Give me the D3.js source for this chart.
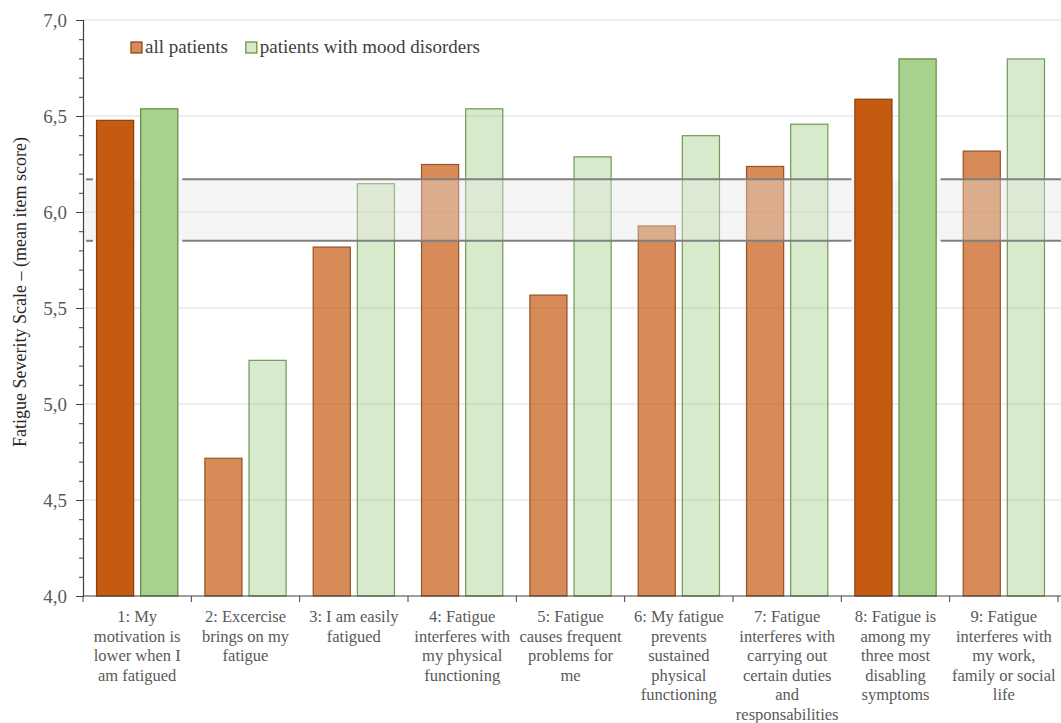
<!DOCTYPE html>
<meta charset="utf-8">
<style>
  body { margin: 0; background: #fff; }
  text { font-family: "Liberation Serif", "DejaVu Serif", serif; }
</style>
<body></body>
<script src="https://d3js.org/d3.v7.min.js"></script>
<script>

var width = 1061,
    height = 723;

// item labels (already split in lines as in the picture)
var items = [
  ["1: My", "motivation is", "lower when I", "am fatigued"],
  ["2: Excercise", "brings on my", "fatigue"],
  ["3: I am easily", "fatigued"],
  ["4: Fatigue", "interferes with", "my physical", "functioning"],
  ["5: Fatigue", "causes frequent", "problems for", "me"],
  ["6: My fatigue", "prevents", "sustained", "physical", "functioning"],
  ["7: Fatigue", "interferes with", "carrying out", "certain duties", "and", "responsabilities"],
  ["8: Fatigue is", "among my", "three most", "disabling", "symptoms"],
  ["9: Fatigue", "interferes with", "my work,", "family or social", "life"]
];
var allPatients  = [6.48, 4.72, 5.82, 6.25, 5.57, 5.93, 6.24, 6.59, 6.32];
var moodPatients = [6.54, 5.23, 6.15, 6.54, 6.29, 6.40, 6.46, 6.80, 6.80];
var highlighted  = [0, 7];          // items drawn in full colour
var series = ["all patients", "patients with mood disorders"];
var refBand = [5.85, 6.17];         // reference range shown as grey band
var yTicks = [4.0, 4.5, 5.0, 5.5, 6.0, 6.5, 7.0];

var margin = {top: 20, right: 3, bottom: 127, left: 83};

var x = d3.scaleBand()
    .domain(d3.range(items.length))
    .range([margin.left, width - margin.right]);

var xs = d3.scaleBand()
    .domain(series)
    .range([0, x.bandwidth()])
    .paddingInner(0.136)
    .paddingOuter(0.295);

var y = d3.scaleLinear()
    .domain([4, 7])
    .range([height - margin.bottom, margin.top]);

var fill = {
  "all patients": "#c55a11",
  "patients with mood disorders": "#a9d18e"
};
var stroke = {
  "all patients": "#8c3f0c",
  "patients with mood disorders": "#5b8a3c"
};
var lightOpacity = {
  "all patients": 0.7,
  "patients with mood disorders": 0.45
};

var svg = d3.select("body").append("svg")
    .attr("width", width)
    .attr("height", height);

// gridlines
svg.append("g")
  .selectAll("line")
  .data(yTicks.slice(1))
  .join("line")
    .attr("x1", margin.left)
    .attr("x2", width)
    .attr("y1", function(d) { return y(d); })
    .attr("y2", function(d) { return y(d); })
    .attr("stroke", "#dcdcdc")
    .attr("stroke-width", 1.2);

var rows = [];
items.forEach(function(it, i) {
  rows.push({i: i, s: series[0], v: allPatients[i]});
  rows.push({i: i, s: series[1], v: moodPatients[i]});
});
var isHi = function(d) { return highlighted.indexOf(d.i) >= 0; };

function drawBars(g, data, light) {
  g.selectAll("rect")
    .data(data)
    .join("rect")
      .attr("x", function(d) { return x(d.i) + xs(d.s) + 0.5; })
      .attr("y", function(d) { return y(d.v) + 0.5; })
      .attr("width", xs.bandwidth() - 1)
      .attr("height", function(d) { return y(4) - y(d.v) - 0.5; })
      .attr("fill", function(d) { return fill[d.s]; })
      .attr("fill-opacity", function(d) { return light ? lightOpacity[d.s] : 1; })
      .attr("stroke", function(d) { return stroke[d.s]; })
      .attr("stroke-opacity", light ? 0.85 : 1)
      .attr("stroke-width", 1.2);
}

// light bars
drawBars(svg.append("g"), rows.filter(function(d) { return !isHi(d); }), true);

// reference band over the light bars
svg.append("rect")
    .attr("x", margin.left + 1)
    .attr("y", y(refBand[1]))
    .attr("width", width - margin.left)
    .attr("height", y(refBand[0]) - y(refBand[1]))
    .attr("fill", "#e6e6e6")
    .attr("fill-opacity", 0.38);

// band edges, broken around the highlighted items
var segs = [];
var start = margin.left + 3;
highlighted.forEach(function(i) {
  segs.push([start, x(i) + xs(series[0]) - 3]);
  start = x(i) + xs(series[1]) + xs.bandwidth() + 4;
});
segs.push([start, width]);

refBand.forEach(function(v) {
  svg.append("g")
    .selectAll("line")
    .data(segs)
    .join("line")
      .attr("x1", function(d) { return d[0]; })
      .attr("x2", function(d) { return d[1]; })
      .attr("y1", y(v))
      .attr("y2", y(v))
      .attr("stroke", "#7f7f7f")
      .attr("stroke-width", 2);
});

// full colour bars
drawBars(svg.append("g"), rows.filter(isHi), false);

// y axis
var yAxis = svg.append("g")
    .attr("transform", "translate(" + margin.left + ",0)");
yAxis.append("g")
    .call(d3.axisLeft(y).tickValues(d3.range(40, 71).map(function(d) { return d / 10; }))
      .tickSize(4).tickFormat(""))
    .call(function(g) { g.select(".domain").remove(); })
    .selectAll("line").attr("stroke", "#404040");
yAxis.append("g")
    .call(d3.axisLeft(y).tickValues(yTicks).tickSize(7).tickPadding(9)
      .tickFormat(function(d) { return d3.format(".1f")(d).replace(".", ","); }))
    .call(function(g) {
      g.select(".domain").attr("stroke", "#404040").attr("stroke-width", 1.2);
      g.selectAll("line").attr("stroke", "#404040");
      g.selectAll("text")
        .attr("fill", "#595959")
        .style("font-size", "19px")
        .style("font-family", "'Liberation Serif', serif");
    });

// x axis
var xAxis = svg.append("g")
    .attr("transform", "translate(0," + y(4) + ")");
xAxis.append("line")
    .attr("x1", margin.left)
    .attr("x2", width)
    .attr("stroke", "#404040")
    .attr("stroke-width", 1.2);
xAxis.selectAll(".tk")
  .data(d3.range(items.length + 1))
  .join("line")
    .attr("class", "tk")
    .attr("x1", function(i) { return margin.left + i * x.step(); })
    .attr("x2", function(i) { return margin.left + i * x.step(); })
    .attr("y1", 0)
    .attr("y2", 6)
    .attr("stroke", "#404040");

var lab = xAxis.selectAll(".lab")
  .data(items)
  .join("text")
    .attr("class", "lab")
    .attr("text-anchor", "middle")
    .attr("fill", "#595959")
    .style("font-size", "16.5px")
    .attr("transform", function(d, i) {
      return "translate(" + (x(i) + x.bandwidth() / 2) + ",26)";
    });
lab.selectAll("tspan")
  .data(function(d) { return d; })
  .join("tspan")
    .attr("x", 0)
    .attr("y", function(d, j) { return j * 19.6; })
    .text(function(d) { return d; });

// y title
svg.append("text")
    .attr("transform", "translate(26,292) rotate(-90)")
    .attr("text-anchor", "middle")
    .attr("fill", "#262626")
    .style("font-size", "18px")
    .text("Fatigue Severity Scale \u2013 (mean item score)");

// legend
var legend = svg.append("g")
    .attr("transform", "translate(131,42)");
var lx = 0;
series.forEach(function(s) {
  var item = legend.append("g").attr("transform", "translate(" + lx + ",0)");
  item.append("rect")
      .attr("width", 11)
      .attr("height", 11)
      .attr("fill", fill[s])
      .attr("fill-opacity", lightOpacity[s])
      .attr("stroke", stroke[s])
      .attr("stroke-width", 1.2);
  var t = item.append("text")
      .attr("x", 14)
      .attr("y", 11)
      .attr("fill", "#404040")
      .style("font-size", "19px")
      .text(s);
  lx += 14 + t.node().getComputedTextLength() + 18;
});

</script>
